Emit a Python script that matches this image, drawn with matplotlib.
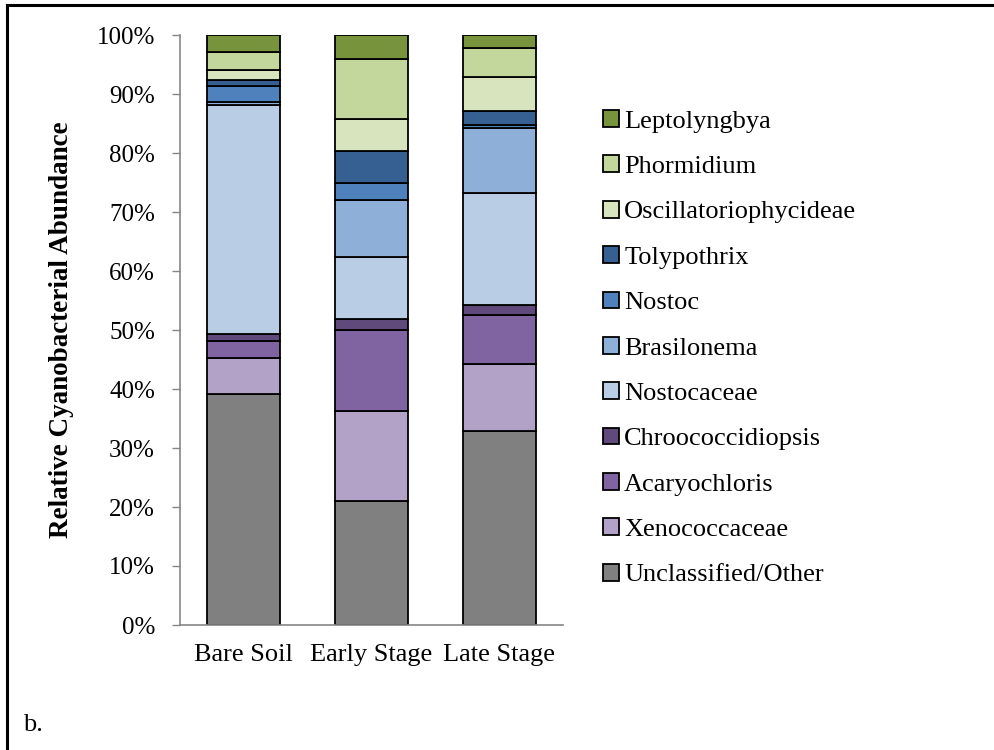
import numpy as np
import matplotlib.pyplot as plt
from matplotlib.lines import Line2D

plt.rcParams['font.family'] = ['Liberation Serif', 'DejaVu Serif']

sites = ['Bare Soil', 'Early Stage', 'Late Stage']

# stacked from bottom to top (percent)
taxa = ['Unclassified/Other', 'Xenococcaceae', 'Acaryochloris', 'Chroococcidiopsis',
        'Nostocaceae', 'Brasilonema', 'Nostoc', 'Tolypothrix',
        'Oscillatoriophycideae', 'Phormidium', 'Leptolyngbya']
unclassified = [39.1, 21.0, 32.8]
xenococcaceae = [6.1, 15.3, 11.4]
acaryochloris = [3.0, 13.7, 8.3]
chroococcidiopsis = [1.2, 1.9, 1.7]
nostocaceae = [38.7, 10.5, 19.0]
brasilonema = [0.6, 9.6, 11.0]
nostoc = [2.7, 3.0, 0.5]
tolypothrix = [1.0, 5.3, 2.5]
oscillatoriophycideae = [1.6, 5.5, 5.6]
phormidium = [3.2, 10.1, 5.0]
leptolyngbya = [2.8, 4.1, 2.2]

values = [unclassified, xenococcaceae, acaryochloris, chroococcidiopsis,
          nostocaceae, brasilonema, nostoc, tolypothrix,
          oscillatoriophycideae, phormidium, leptolyngbya]
colors = ['#808080', '#B3A2C7', '#8064A2', '#604A7B',
          '#B9CDE5', '#8EB0D8', '#4F81BD', '#376092',
          '#D7E4BD', '#C3D69B', '#77933C']

fig = plt.figure(figsize=(9.95, 7.5), dpi=100)
ax = fig.add_axes([180 / 995, 1 - 625 / 750, 383 / 995, 590 / 750])

x = np.arange(len(sites))
bottom = np.zeros(len(sites))
handles = []
for name, vals, c in zip(taxa, values, colors):
    b = ax.bar(x, vals, 0.57, bottom=bottom, color=c, edgecolor='black',
               linewidth=1.3, label=name)
    handles.append(b)
    bottom += np.array(vals)

ax.set_xlim(-0.5, 2.5)
ax.set_ylim(0, 100)
ax.set_yticks(np.arange(0, 101, 10))
ax.set_yticklabels(['%d%%' % v for v in range(0, 101, 10)])
ax.set_xticks(x)
ax.set_xticklabels(sites)
ax.tick_params(axis='y', length=6, width=1, color='#868686', pad=12, labelsize=18)
ax.tick_params(axis='x', length=0, pad=14, labelsize=19)
for s in ['top', 'right']:
    ax.spines[s].set_visible(False)
for s in ['left', 'bottom']:
    ax.spines[s].set_color('#868686')
    ax.spines[s].set_linewidth(1.2)

ax.set_ylabel('Relative Cyanobacterial Abundance', fontsize=19.5, fontweight='bold')
ax.yaxis.set_label_coords(-0.278, 0.5)

fig.legend(handles[::-1], taxa[::-1], loc='upper left',
           bbox_to_anchor=(603 / 995, 1 - 110 / 750), frameon=False,
           fontsize=19, handlelength=0.6, handleheight=0.6, handletextpad=0.2,
           labelspacing=0.86, borderpad=0, borderaxespad=0)

fig.text(23 / 995, 1 - 731 / 750, 'b.', fontsize=19, va='baseline')

# panel border (top and left)
fig.add_artist(Line2D([7 / 995, 1], [1 - 5 / 750, 1 - 5 / 750], color='black', lw=2.2,
                      transform=fig.transFigure))
fig.add_artist(Line2D([7 / 995, 7 / 995], [0, 1 - 5 / 750], color='black', lw=2.2,
                      transform=fig.transFigure))

fig.savefig('out.png', dpi=100)
